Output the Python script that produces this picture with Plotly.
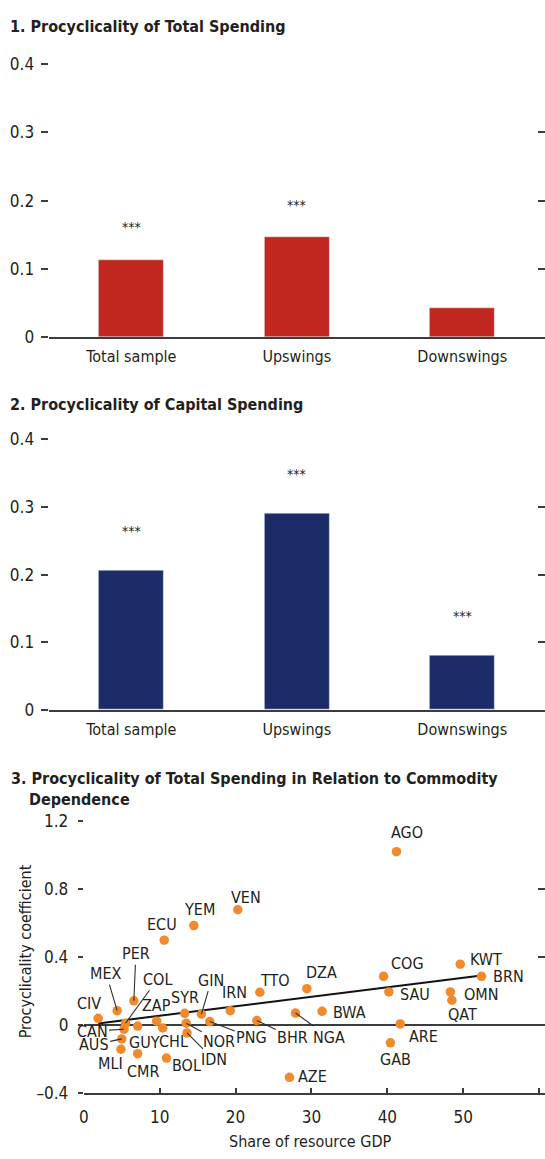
import plotly.graph_objects as go

W, H = 545, 1159

# ---- Panels 1 and 2: procyclicality coefficients by phase ----
categories = ["Total sample", "Upswings", "Downswings"]
total_spending = [0.113, 0.146, 0.043]
total_signif = ["***", "***", ""]
capital_spending = [0.206, 0.290, 0.080]
capital_signif = ["***", "***", "***"]

# ---- Panel 3: country coefficient vs. resource share of GDP ----
countries = ["AGO", "VEN", "YEM", "ECU", "PER", "MEX", "COL", "CIV", "ZAP",
             "SYR", "GIN", "IRN", "TTO", "CAN", "AUS", "MLI", "CMR", "GUY",
             "CHL", "BOL", "NOR", "IDN", "PNG", "BHR", "NGA", "BWA", "DZA",
             "COG", "SAU", "KWT", "BRN", "OMN", "QAT", "ARE", "GAB", "AZE"]
resource_share = [41.2, 20.3, 14.5, 10.6, 6.6, 4.4, 5.5, 1.9, 9.6,
                  13.3, 15.5, 19.3, 23.2, 5.3, 5.0, 4.9, 7.1, 7.1,
                  10.4, 10.9, 13.5, 13.6, 16.6, 22.8, 27.9, 31.4, 29.4,
                  39.5, 40.2, 49.6, 52.4, 48.3, 48.5, 41.7, 40.4, 27.1]
procyclicality = [1.018, 0.677, 0.584, 0.498, 0.142, 0.084, 0.010, 0.039, 0.022,
                  0.068, 0.064, 0.084, 0.192, -0.025, -0.082, -0.143, -0.169, -0.007,
                  -0.018, -0.195, 0.010, -0.047, 0.020, 0.026, 0.070, 0.080, 0.213,
                  0.286, 0.194, 0.357, 0.286, 0.194, 0.145, 0.006, -0.105, -0.308]
fit_x = [1.9, 52.4]
fit_y = [0.009, 0.290]

bar_ticks = [0, 0.1, 0.2, 0.3, 0.4]
bar_ticktext = ["0", "0.1", "0.2", "0.3", "0.4"]
sc_yticks = [-0.4, 0, 0.4, 0.8, 1.2]
sc_yticktext = ["\u20130.4", "0", "0.4", "0.8", "1.2"]
sc_xticks = [0, 10, 20, 30, 40, 50, 60]

# label placement around each point: (dx px, dy px, leader line?)
label_pos = {
    "AGO": (11, -19, False), "VEN": (8, -12, False), "YEM": (6, -16, False),
    "ECU": (-2, -16, False), "PER": (2, -47, True), "MEX": (-11, -37, True),
    "COL": (32, -44, True), "CIV": (-9, -15, False), "ZAP": (0, -16, False),
    "SYR": (0, -16, False), "GIN": (10, -34, True), "IRN": (4, -18, False),
    "TTO": (15, -12, False), "CAN": (-32, 2, True), "AUS": (-28, 6, True),
    "MLI": (-10, 14, False), "CMR": (5, 18, False), "GUY": (7, 16, False),
    "CHL": (11, 14, False), "BOL": (20, 7, False), "NOR": (33, 18, True),
    "IDN": (27, 27, True), "PNG": (42, 16, True), "BHR": (36, 17, True),
    "NGA": (33, 24, True), "BWA": (27, 1, False), "DZA": (15, -16, False),
    "COG": (24, -13, False), "SAU": (26, 3, False), "KWT": (26, -5, False),
    "BRN": (27, 0, False), "OMN": (31, 3, False), "QAT": (11, 14, False),
    "ARE": (23, 13, False), "GAB": (5, 17, False), "AZE": (23, -1, False),
}

FONT = "DejaVu Sans Condensed, Liberation Sans Narrow, sans-serif"
TXT = "#231f20"
AX = "#3c3c3c"
RED = "#c1261f"
NAVY = "#1c2c68"
ORANGE = "#f08a2c"


def px_x(p):
    return p / W


def px_y(p):
    return 1 - p / H


fig = go.Figure()

# bar panels
fig.add_trace(go.Bar(x=categories, y=total_spending, marker_color=RED,
                     width=0.395, xaxis="x", yaxis="y", showlegend=False))
fig.add_trace(go.Bar(x=categories, y=capital_spending, marker_color=NAVY,
                     width=0.395, xaxis="x2", yaxis="y2", showlegend=False))

# scatter panel
fig.add_trace(go.Scatter(x=fit_x, y=fit_y, mode="lines",
                         line=dict(color="#111111", width=2),
                         xaxis="x3", yaxis="y3", showlegend=False))
fig.add_trace(go.Scatter(x=resource_share, y=procyclicality, mode="markers",
                         marker=dict(color=ORANGE, size=9.5),
                         xaxis="x3", yaxis="y3", showlegend=False))

# placeholder traces so the right-hand tick axes are drawn
for ya, xa in (("y4", "x"), ("y5", "x2"), ("y6", "x3")):
    fig.add_trace(go.Scatter(x=[None], y=[None], xaxis=xa, yaxis=ya,
                             showlegend=False, hoverinfo="skip"))

tickfont = dict(family=FONT, size=17, color=TXT)
catfont = dict(family=FONT, size=16, color=TXT)

bar_x_common = dict(domain=[px_x(44), 1], range=[-0.5, 2.5], showline=True,
                    linecolor=AX, linewidth=1.6, ticks="", tickfont=catfont,
                    ticklabelstandoff=4, fixedrange=True)
bar_y_common = dict(range=[0, 0.4], tickvals=bar_ticks, ticktext=bar_ticktext,
                    ticks="outside", ticklen=7, tickwidth=1.5, tickcolor=AX,
                    showgrid=False, zeroline=False, showline=False,
                    tickfont=tickfont, ticklabelstandoff=3)
right_common = dict(side="right", ticks="inside", ticklen=7, tickwidth=1.5,
                    tickcolor=AX, showticklabels=False, showgrid=False,
                    zeroline=False, showline=False)

fig.update_layout(
    width=W, height=H,
    margin=dict(l=0, r=0, t=0, b=0),
    paper_bgcolor="white", plot_bgcolor="white",
    bargap=0,
    xaxis=dict(anchor="y", **bar_x_common),
    yaxis=dict(anchor="x", domain=[px_y(333), px_y(55)], **bar_y_common),
    xaxis2=dict(anchor="y2", **bar_x_common),
    yaxis2=dict(anchor="x2", domain=[px_y(712), px_y(437)], **bar_y_common),
    yaxis4=dict(overlaying="y", anchor="x", range=[0, 0.4], tickvals=bar_ticks,
                **right_common),
    yaxis5=dict(overlaying="y2", anchor="x2", range=[0, 0.4], tickvals=bar_ticks,
                **right_common),
    xaxis3=dict(anchor="y3", domain=[px_x(79.5), 1], range=[0, 60.77],
                tickvals=sc_xticks, ticks="inside", ticklen=5, tickwidth=1.5,
                tickcolor=AX, showline=True, linecolor=AX, linewidth=1.6,
                showgrid=False, zeroline=False, tickfont=tickfont,
                ticklabelstandoff=8),
    yaxis3=dict(anchor="x3", domain=[px_y(1102), px_y(825)], range=[-0.4, 1.2],
                tickvals=sc_yticks, ticktext=sc_yticktext, ticks="outside",
                ticklen=5, tickwidth=1.5, tickcolor=AX, showgrid=False,
                showline=False, zeroline=True, zerolinecolor=AX,
                zerolinewidth=1.6, tickfont=tickfont, ticklabelstandoff=6),
    yaxis6=dict(overlaying="y3", anchor="x3", range=[-0.4, 1.2],
                tickvals=[0.4, 0.8, 1.2], **right_common),
)

ann = []

# panel titles
title_font = dict(family=FONT, size=16, color=TXT)


def title(text, x, y):
    ann.append(dict(text="<b>" + text + "</b>", x=px_x(x), y=px_y(y),
                    xref="paper", yref="paper", xanchor="left",
                    yanchor="middle", showarrow=False, font=title_font))


title("1. Procyclicality of Total Spending", 3, 17)
title("2. Procyclicality of Capital Spending", 3, 401)
title("3. Procyclicality of Total Spending in Relation to Commodity", 4, 782)
title("Dependence", 22, 803)

# significance stars above the bars
star_font = dict(family=FONT, size=14, color=TXT)
for cat, val, s in zip(categories, total_spending, total_signif):
    if s:
        ann.append(dict(text=s, x=cat, y=val, xref="x", yref="y", yshift=33,
                        showarrow=False, font=star_font))
for cat, val, s in zip(categories, capital_spending, capital_signif):
    if s:
        ann.append(dict(text=s, x=cat, y=val, xref="x2", yref="y2", yshift=40,
                        showarrow=False, font=star_font))

# axis titles for the scatter
ann.append(dict(text="Procyclicality coefficient", x=px_x(21), y=px_y(958),
                xref="paper", yref="paper", xanchor="center", yanchor="middle",
                textangle=-90, showarrow=False,
                font=dict(family=FONT, size=16, color=TXT)))
ann.append(dict(text="Share of resource GDP", x=px_x(308), y=px_y(1151),
                xref="paper", yref="paper", xanchor="center", yanchor="middle",
                showarrow=False, font=dict(family=FONT, size=16, color=TXT)))

# country labels
lab_font = dict(family=FONT, size=16, color=TXT)
for c, xv, yv in zip(countries, resource_share, procyclicality):
    dx, dy, leader = label_pos[c]
    if leader:
        ann.append(dict(text=c, x=xv, y=yv, xref="x3", yref="y3", ax=dx, ay=dy,
                        showarrow=True, arrowhead=0, arrowwidth=1.1,
                        arrowcolor="#2e2e2e", standoff=0, startstandoff=0,
                        font=lab_font))
    else:
        ann.append(dict(text=c, x=xv, y=yv, xref="x3", yref="y3", xshift=dx,
                        yshift=-dy, showarrow=False, font=lab_font))

fig.update_layout(annotations=ann)

fig.write_html("out.html")
